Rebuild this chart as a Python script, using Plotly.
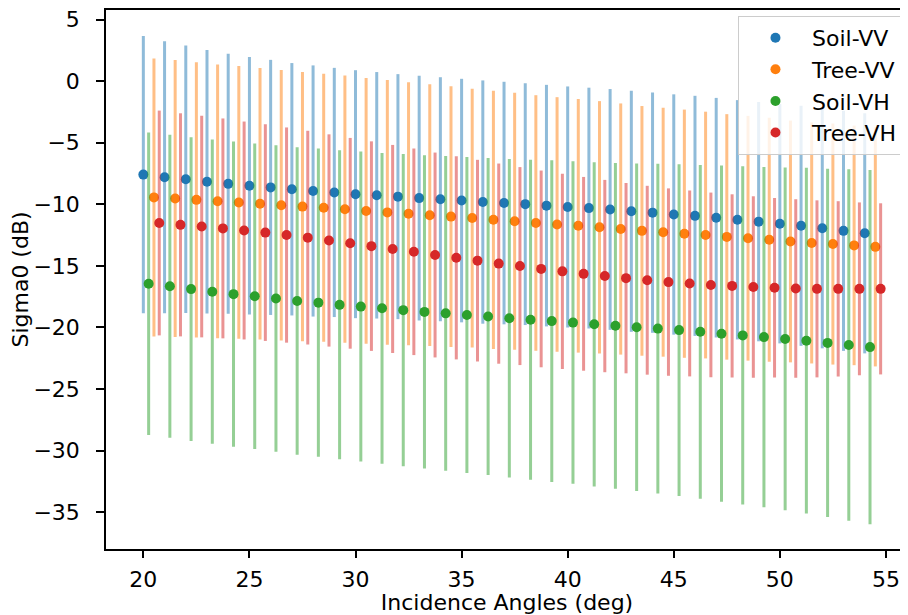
import plotly.graph_objects as go

angles = list(range(20, 55))

series_names = ["Soil-VV", "Tree-VV", "Soil-VH", "Tree-VH"]
series_offsets = [0.0, 0.5, 0.25, 0.75]
series_colors = ["31,119,180", "255,127,14", "44,160,44", "214,39,40"]

soil_vv_mean = [-7.59, -7.80, -7.97, -8.17, -8.34, -8.49, -8.63, -8.78, -8.92, -9.04, -9.18, -9.27,
                -9.38, -9.50, -9.59, -9.70, -9.82, -9.90, -9.99, -10.11, -10.22, -10.31, -10.42, -10.57,
                -10.68, -10.83, -10.94, -11.09, -11.26, -11.41, -11.58, -11.75, -11.95, -12.16, -12.36]
soil_vv_std = [11.26, 11.05, 10.86, 10.70, 10.56, 10.46, 10.36, 10.25, 10.20, 10.12, 10.07, 10.01,
               9.95, 9.94, 9.91, 9.89, 9.88, 9.85, 9.82, 9.81, 9.79, 9.78, 9.78, 9.79,
               9.76, 9.76, 9.75, 9.73, 9.72, 9.72, 9.72, 9.75, 9.75, 9.75, 9.75]

tree_vv_mean = [-9.44, -9.53, -9.64, -9.76, -9.85, -9.96, -10.08, -10.19, -10.28, -10.40, -10.54, -10.66,
                -10.77, -10.89, -11.00, -11.12, -11.26, -11.38, -11.52, -11.64, -11.75, -11.87, -12.01,
                -12.16, -12.27, -12.39, -12.50, -12.65, -12.76, -12.88, -13.02, -13.14, -13.23, -13.34, -13.46]
tree_vv_std = [11.29, 11.25, 11.18, 11.12, 11.08, 11.02, 10.99, 10.93, 10.89, 10.85, 10.79, 10.75,
               10.69, 10.63, 10.59, 10.51, 10.49, 10.43, 10.38, 10.34, 10.30, 10.25, 10.20,
               10.14, 10.11, 10.08, 10.02, 9.97, 9.94, 9.91, 9.82, 9.79, 9.79, 9.73, 9.71]

soil_vh_mean = [-16.46, -16.66, -16.89, -17.10, -17.30, -17.47, -17.65, -17.85, -17.99, -18.17, -18.31, -18.45,
                -18.60, -18.74, -18.86, -19.00, -19.12, -19.26, -19.38, -19.49, -19.61, -19.75, -19.87, -19.99,
                -20.10, -20.22, -20.36, -20.51, -20.65, -20.79, -20.94, -21.08, -21.26, -21.43, -21.60]
soil_vh_std = [12.28, 12.30, 12.33, 12.36, 12.39, 12.41, 12.45, 12.49, 12.52, 12.55, 12.59, 12.62,
               12.68, 12.72, 12.78, 12.83, 12.87, 12.93, 13.00, 13.06, 13.10, 13.17, 13.23, 13.30,
               13.39, 13.47, 13.56, 13.65, 13.73, 13.82, 13.92, 14.04, 14.14, 14.27, 14.38]

tree_vh_mean = [-11.52, -11.67, -11.81, -11.96, -12.13, -12.30, -12.50, -12.71, -12.94, -13.17, -13.40,
                -13.63, -13.86, -14.12, -14.35, -14.58, -14.82, -15.02, -15.25, -15.45, -15.65, -15.83, -16.00,
                -16.17, -16.32, -16.43, -16.55, -16.63, -16.72, -16.78, -16.84, -16.87, -16.87, -16.87, -16.87]
tree_vh_std = [9.13, 9.06, 9.00, 8.93, 8.85, 8.80, 8.74, 8.68, 8.62, 8.56, 8.51,
               8.45, 8.39, 8.32, 8.25, 8.19, 8.13, 8.04, 7.99, 7.93, 7.87, 7.81, 7.73,
               7.67, 7.61, 7.55, 7.50, 7.44, 7.37, 7.29, 7.25, 7.19, 7.12, 7.02, 6.95]

x_ticks = [20, 25, 30, 35, 40, 45, 50, 55]
y_ticks = [5, 0, -5, -10, -15, -20, -25, -30, -35]

means = [soil_vv_mean, tree_vv_mean, soil_vh_mean, tree_vh_mean]
stds = [soil_vv_std, tree_vv_std, soil_vh_std, tree_vh_std]

fig = go.Figure()
for name, off, col, m, s in zip(series_names, series_offsets, series_colors, means, stds):
    fig.add_trace(go.Scatter(
        x=[a + off for a in angles], y=m, mode="markers", name=name,
        marker=dict(color=f"rgb({col})", size=10),
        error_y=dict(type="data", array=s, visible=True, color=f"rgba({col},0.5)",
                     thickness=3, width=0),
    ))

font = dict(family="DejaVu Sans", size=22, color="black")
# the page body adds an 8px margin, so the figure is 900x607 and offset accordingly
fig.update_layout(
    width=900, height=607,
    margin=dict(l=98, r=0, t=2, b=66, autoexpand=False),
    paper_bgcolor="white", plot_bgcolor="white",
    font=font,
    showlegend=True,
    legend=dict(x=0.788, y=0.989, xanchor="left", yanchor="top",
                bgcolor="rgba(255,255,255,0.8)", bordercolor="rgb(204,204,204)",
                borderwidth=1, font=font, itemwidth=63, tracegroupgap=0),
    xaxis=dict(range=[18.24, 56.04], tickvals=x_ticks, showgrid=False, zeroline=False,
               automargin=False, ticklabeloverflow="allow",
               showline=True, linecolor="black", linewidth=1.5, mirror=True,
               ticks="outside", ticklen=7, tickwidth=1.5, tickcolor="black",
               ticklabelstandoff=3,
               title=dict(text="Incidence Angles (deg)", font=font, standoff=2)),
    yaxis=dict(range=[-38.0, 5.78], tickvals=y_ticks, showgrid=False, zeroline=False,
               automargin=False, ticklabeloverflow="allow",
               showline=True, linecolor="black", linewidth=1.5,
               ticks="outside", ticklen=8, tickwidth=1.5, tickcolor="black",
               ticklabelstandoff=12,
               title=dict(text="Sigma0 (dB)", font=font, standoff=11)),
)
fig.write_html("out.html")
